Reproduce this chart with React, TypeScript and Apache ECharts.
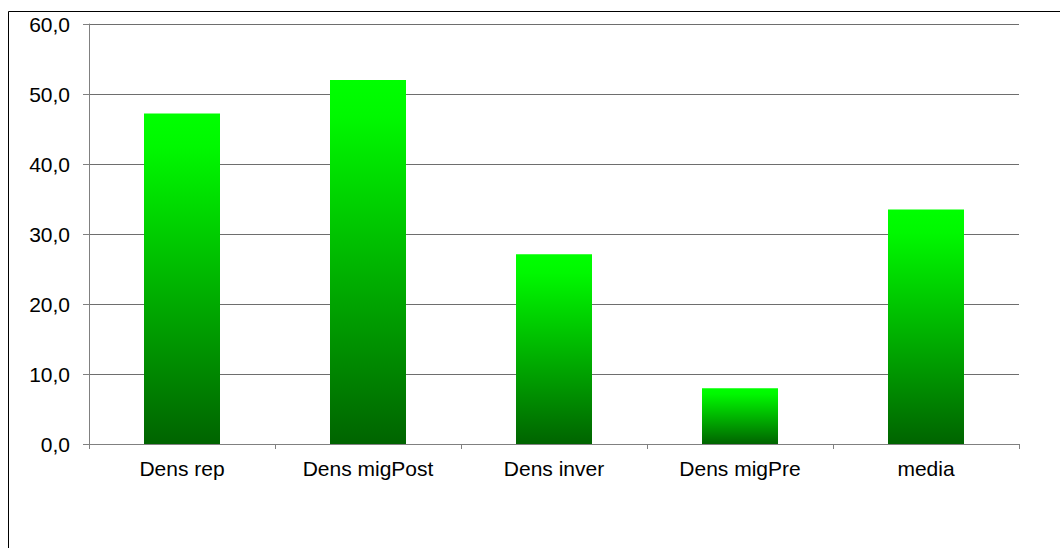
import React, { useEffect, useRef } from "react";
import * as echarts from "echarts";

const categories = ["Dens rep", "Dens migPost", "Dens inver", "Dens migPre", "media"];
const values = [47.2, 52.0, 27.1, 7.95, 33.5];
const yMin = 0;
const yMax = 60;
const yInterval = 10;

export default function App() {
  const ref = useRef<HTMLDivElement>(null);
  useEffect(() => {
    if (!ref.current) return;
    const chart = echarts.init(ref.current, undefined, { renderer: "svg" });
    const font = "'Liberation Sans', Arial, sans-serif";
    chart.setOption({
      animation: false,
      backgroundColor: "#ffffff",
      grid: { left: 89, top: 24, right: 41, bottom: 104, containLabel: false },
      graphic: [
        {
          type: "rect",
          shape: { x: 8.5, y: 11.5, width: 1200, height: 700 },
          style: { fill: "none", stroke: "#000000", lineWidth: 1 },
          silent: true,
          z: -1,
        },
      ],
      xAxis: {
        type: "category",
        data: categories,
        boundaryGap: true,
        axisLine: { show: true, lineStyle: { color: "#808080", width: 1 } },
        axisTick: { show: true, length: 5, alignWithLabel: false, lineStyle: { color: "#808080" } },
        axisLabel: { color: "#000000", fontSize: 21, fontFamily: font, margin: 14, interval: 0 },
        splitLine: { show: false },
      },
      yAxis: {
        type: "value",
        min: yMin,
        max: yMax,
        interval: yInterval,
        axisLine: { show: true, lineStyle: { color: "#808080", width: 1 } },
        axisTick: { show: true, length: 6, inside: false, lineStyle: { color: "#808080" } },
        axisLabel: {
          color: "#000000",
          fontSize: 21,
          fontFamily: font,
          margin: 19,
          formatter: (v: number) => v.toFixed(1).replace(".", ","),
        },
        splitLine: { show: true, lineStyle: { color: "#6e6e6e", width: 1 } },
      },
      series: [
        {
          type: "bar",
          data: values,
          barWidth: 76,
          itemStyle: {
            color: new echarts.graphic.LinearGradient(0, 0, 0, 1, [
              { offset: 0, color: "#00ff00" },
              { offset: 0.1, color: "#00f800" },
              { offset: 1, color: "#006400" },
            ]),
          },
        },
      ],
    });
    return () => chart.dispose();
  }, []);
  return (
    <div
      ref={ref}
      style={{ position: "fixed", left: 0, top: 0, width: 1060, height: 548 }}
    />
  );
}
